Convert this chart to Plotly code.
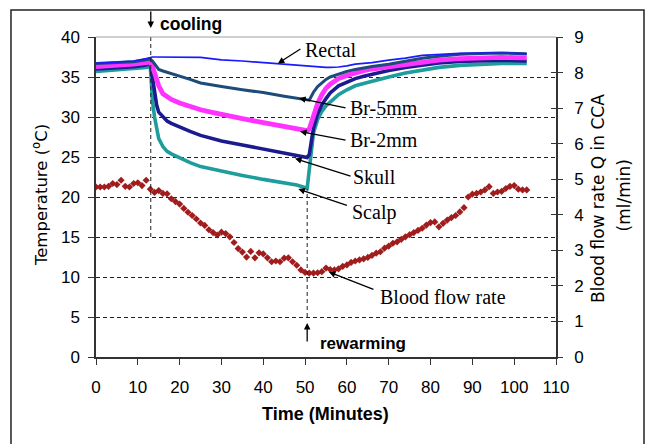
import plotly.graph_objects as go

# ---------------------------------------------------------------------------
# Temperature probes (deg C) sampled over the experiment (minutes)
# ---------------------------------------------------------------------------
time_temp = [0, 3, 6, 9, 12, 13, 13.5, 14, 14.5, 15, 16, 17, 18, 20, 22.5, 25, 27.5,
             30, 35, 40, 45, 48, 50.5, 51, 51.5, 52, 53, 54, 55, 56, 58, 60, 62, 64,
             66, 70, 74, 78, 82, 87, 92, 97, 103]

rectal = [36.7, 36.8, 36.9, 37.0, 37.3, 37.45, 37.5, 37.5, 37.5, 37.5, 37.5, 37.5,
          37.5, 37.5, 37.5, 37.45, 37.3, 37.15, 37.0, 36.8, 36.6, 36.4, 36.3, 36.3,
          36.3, 36.3, 36.25, 36.2, 36.2, 36.2, 36.25, 36.4, 36.6, 36.7, 36.8, 37.1,
          37.35, 37.7, 37.85, 37.95, 38.0, 38.0, 37.9]

br_5mm = [36.7, 36.75, 36.85, 36.9, 37.15, 37.25, 37.0, 36.6, 36.2, 35.95, 35.75,
          35.6, 35.45, 35.15, 34.7, 34.25, 34.0, 33.8, 33.4, 33.05, 32.6, 32.35, 32.1,
          32.1, 32.6, 33.1, 33.8, 34.3, 34.7, 35.0, 35.4, 35.7, 35.95, 36.15, 36.3,
          36.6, 37.0, 37.35, 37.6, 37.85, 37.95, 38.0, 37.9]

br_2mm = [36.3, 36.35, 36.5, 36.6, 36.8, 36.9, 36.3, 35.5, 34.7, 33.9, 32.9, 32.5,
          32.2, 31.75, 31.3, 30.9, 30.6, 30.3, 29.8, 29.3, 28.8, 28.5, 28.3, 28.5,
          29.4, 30.3, 31.7, 32.8, 33.6, 34.1, 34.8, 35.2, 35.55, 35.8, 36.0, 36.3,
          36.6, 36.9, 37.1, 37.3, 37.4, 37.45, 37.4]

skull = [36.0, 36.05, 36.2, 36.3, 36.5, 36.7, 34.8, 32.6, 31.5, 30.6, 30.0, 29.5,
         29.2, 28.7, 28.2, 27.7, 27.3, 27.0, 26.5, 26.0, 25.5, 25.15, 24.95, 25.3,
         27.0, 28.6, 30.4, 31.5, 32.3, 33.0, 33.9, 34.4, 34.8, 35.1, 35.35, 35.8,
         36.2, 36.5, 36.75, 36.95, 37.05, 37.1, 37.0]

scalp = [35.7, 35.8, 35.9, 36.0, 36.2, 36.3, 32.0, 30.0, 28.6, 27.3, 26.3, 25.7,
         25.4, 24.9, 24.3, 23.8, 23.5, 23.2, 22.7, 22.2, 21.8, 21.5, 21.1, 23.5,
         26.5, 28.0, 29.7, 30.7, 31.4, 31.9, 32.8, 33.4, 33.9, 34.2, 34.5, 35.0,
         35.5, 35.9, 36.2, 36.45, 36.6, 36.7, 36.7]

# ---------------------------------------------------------------------------
# Blood flow rate Q in the common carotid artery (ml/min), one reading per minute
# ---------------------------------------------------------------------------
time_flow = list(range(0, 104))
flow = [4.78, 4.78, 4.78, 4.80, 4.88, 4.85, 4.97, 4.80, 4.78, 4.88,
        4.90, 4.82, 4.97, 4.72, 4.63, 4.68, 4.60, 4.59, 4.45, 4.37,
        4.30, 4.18, 4.07, 3.98, 3.88, 3.77, 3.70, 3.58, 3.50, 3.43,
        3.51, 3.47, 3.38, 3.22, 3.05, 2.95, 2.81, 2.97, 2.79, 2.93,
        2.90, 2.79, 2.68, 2.70, 2.68, 2.78, 2.79, 2.68, 2.58, 2.45,
        2.38, 2.36, 2.36, 2.37, 2.40, 2.50, 2.46, 2.45, 2.48, 2.55,
        2.59, 2.66, 2.70, 2.73, 2.76, 2.80, 2.86, 2.92, 2.96, 3.06,
        3.12, 3.20, 3.24, 3.31, 3.38, 3.44, 3.50, 3.56, 3.62, 3.71,
        3.78, 3.80, 3.66, 3.76, 3.85, 3.92, 3.98, 4.08, 4.20, 4.50,
        4.58, 4.60, 4.64, 4.70, 4.79, 4.60, 4.64, 4.66, 4.74, 4.80,
        4.82, 4.72, 4.70, 4.70]

# Protocol events (minutes)
cooling_start = 13.1
rewarming_start = 50.5

# Axis ticks
x_ticks = list(range(0, 111, 10))
temp_ticks = list(range(0, 41, 5))
flow_ticks = list(range(0, 10))

SANS = "Liberation Sans"
SERIF = "Liberation Serif"

fig = go.Figure()

series = [
    ("Scalp", scalp, "#1f9c9c", 3.6),
    ("Skull", skull, "#1b1b8f", 3.6),
    ("Br-2mm", br_2mm, "#ff33ff", 4.8),
    ("Br-5mm", br_5mm, "#1d4b7a", 3.0),
    ("Rectal", rectal, "#1a1aff", 1.7),
]
for name, vals, color, width in series:
    fig.add_trace(go.Scatter(x=time_temp, y=vals, name=name, mode="lines",
                             line=dict(color=color, width=width),
                             yaxis="y", hoverinfo="skip"))

fig.add_trace(go.Scatter(x=time_flow, y=flow, name="Blood flow rate", mode="markers",
                         marker=dict(symbol="diamond", size=5.5, color="#a11c1c"),
                         yaxis="y2", hoverinfo="skip"))

# empty trace that carries the inner half of the right-hand tick marks
fig.add_trace(go.Scatter(x=[], y=[], yaxis="y3", showlegend=False, hoverinfo="skip"))

# dashed event markers
fig.add_shape(type="line", xref="x", yref="y", x0=cooling_start, x1=cooling_start,
              y0=15, y1=40, line=dict(color="#222", width=1, dash="4px,3px"))
fig.add_shape(type="line", xref="x", yref="y", x0=rewarming_start, x1=rewarming_start,
              y0=5, y1=21, line=dict(color="#222", width=1, dash="4px,3px"))

# light top border of the plotting area
fig.add_shape(type="line", xref="paper", yref="paper", x0=0, x1=1, y0=1, y1=1,
              line=dict(color="#a0a0a0", width=1.2))

# outer frame around the figure
fig.add_shape(type="rect", xref="paper", yref="paper", x0=-0.1848, x1=1.1913,
              y0=-0.5, y1=1.0844, line=dict(color="#222", width=1.5),
              fillcolor="rgba(0,0,0,0)")

arrow_style = dict(showarrow=True, arrowhead=2, arrowsize=1, arrowwidth=1.3,
                   arrowcolor="black", text="")

# event arrows and labels
fig.add_annotation(x=cooling_start, y=1.028, xref="x", yref="paper", ax=0, ay=-18,
                   **arrow_style)
fig.add_annotation(x=cooling_start, y=1.0406, xref="x", yref="paper", text="cooling",
                   showarrow=False, xanchor="left", yanchor="middle", xshift=7,
                   font=dict(family=SANS, size=17.5, color="black", weight="bold"))
fig.add_annotation(x=rewarming_start, y=4.25, xref="x", yref="y", ax=0, ay=20,
                   **arrow_style)
fig.add_annotation(x=rewarming_start, y=4.25, xref="x", yref="y", text="rewarming",
                   showarrow=False, xanchor="left", yanchor="middle", xshift=11,
                   yshift=-20, font=dict(family=SANS, size=17, color="black",
                                         weight="bold"))

# series call-outs: (label, x, y, y-ref, arrow tail dx, dy, label dx, dy)
callouts = [
    ("Rectal", 43.5, 36.69, "y", 24, -15.5, 25, 13.5),
    ("Br-5mm", 48.56, 32.34, "y", 48, 10, 49, -9.7),
    ("Br-2mm", 48.8, 28.19, "y", 47, 9, 48, -8.5),
    ("Skull", 47.6, 24.81, "y", 57, 18, 56, -18.5),
    ("Scalp", 48.4, 21.0, "y", 50, 17, 52, -23),
    ("Blood flow rate", 55.7, 2.39, "y2", 46, 18, 49, -25),
]
for label, hx, hy, yref, tdx, tdy, ldx, ldy in callouts:
    fig.add_annotation(x=hx, y=hy, xref="x", yref=yref, ax=tdx, ay=tdy, **arrow_style)
    fig.add_annotation(x=hx, y=hy, xref="x", yref=yref, text=label, showarrow=False,
                       xanchor="left", yanchor="middle", xshift=ldx, yshift=ldy,
                       font=dict(family=SERIF, size=20, color="black"))

# axis titles
title_common = dict(xref="paper", yref="paper", showarrow=False,
                    xanchor="center", yanchor="middle")
fig.add_annotation(x=-0.1217, y=0.506, text="Temperature (<sup>o</sup>C)",
                   textangle=-90, font=dict(family="DejaVu Sans", size=16.5,
                                            color="black"), **title_common)
fig.add_annotation(x=1.0913, y=0.497, text="Blood flow rate Q in CCA", textangle=-90,
                   font=dict(family="DejaVu Sans", size=17, color="black"),
                   **title_common)
fig.add_annotation(x=1.1478, y=0.505, text="(ml/min)", textangle=-90,
                   font=dict(family="DejaVu Sans", size=17, color="black"),
                   **title_common)
fig.add_annotation(x=0.498, y=-0.178, text="Time (Minutes)",
                   font=dict(family=SANS, size=18, color="black", weight="bold"),
                   **title_common)

axis_common = dict(showline=True, linecolor="#333", linewidth=1.5, zeroline=False,
                   tickcolor="#333", tickwidth=1.3,
                   tickfont=dict(family=SANS, size=17, color="black"))

fig.update_layout(
    width=653, height=444,
    margin=dict(l=96, r=97, t=37, b=87),
    paper_bgcolor="white", plot_bgcolor="white",
    showlegend=False,
    xaxis=dict(range=[0, 110], tickvals=x_ticks, ticks="outside", ticklen=6,
               showgrid=False, ticklabelstandoff=8, **axis_common),
    yaxis=dict(range=[0, 40], tickvals=temp_ticks, ticks="outside", ticklen=6,
               showgrid=True, gridcolor="#222", gridwidth=1, griddash="4px,3px",
               ticklabelstandoff=5, **axis_common),
    yaxis2=dict(range=[0, 9], tickvals=flow_ticks, ticks="outside", ticklen=5,
                overlaying="y", side="right", anchor="x", showgrid=False,
                ticklabelstandoff=8, **axis_common),
    yaxis3=dict(range=[0, 9], tickvals=flow_ticks, ticks="inside", ticklen=5,
                overlaying="y", side="right", anchor="x", showgrid=False,
                showticklabels=False, showline=False, zeroline=False,
                tickcolor="#333", tickwidth=1.3),
)

fig.write_html("out.html")
